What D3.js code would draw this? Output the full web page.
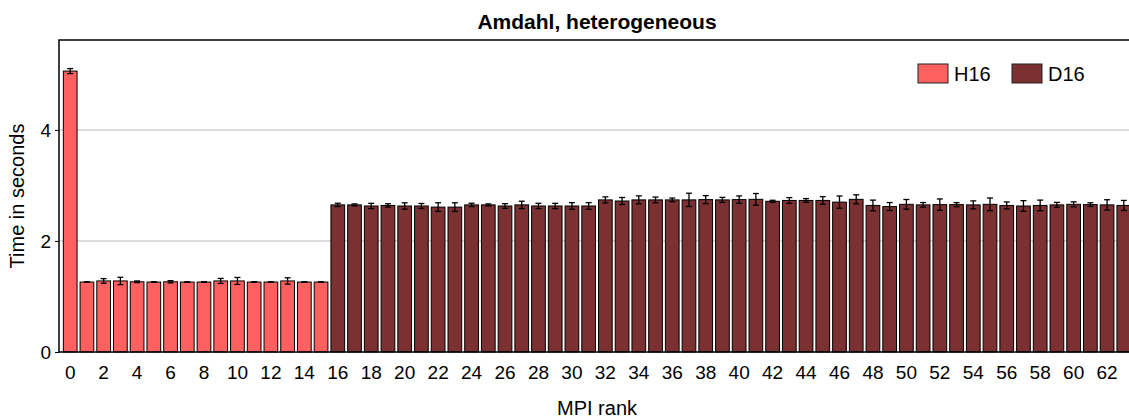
<!DOCTYPE html>
<html>
<head>
<meta charset="utf-8">
<script src="https://cdn.jsdelivr.net/npm/d3@7"></script>
<style>
  html, body { margin: 0; padding: 0; background: #fff; }
  svg { display: block; font-family: "Liberation Sans", Arial, Helvetica, sans-serif; }
</style>
</head>
<body>
<svg id="chart" width="1129" height="419"></svg>
<script>
// ---- data ----
const ranks = d3.range(64);
const groups = ["H16", "D16"];
const times = [
  5.06, 1.26, 1.28, 1.28, 1.265, 1.26, 1.265, 1.26, 1.26, 1.28, 1.28, 1.26, 1.26, 1.28, 1.26, 1.26,
  2.65, 2.65, 2.63, 2.64, 2.63, 2.63, 2.61, 2.61, 2.65, 2.65, 2.63, 2.65, 2.63, 2.63, 2.63, 2.63,
  2.74, 2.72, 2.74, 2.74, 2.74, 2.74, 2.745, 2.74, 2.745, 2.75, 2.715, 2.73, 2.73, 2.73, 2.70, 2.75,
  2.64, 2.62, 2.66, 2.65, 2.655, 2.655, 2.65, 2.66, 2.64, 2.63, 2.64, 2.65, 2.66, 2.655, 2.65, 2.64
];
const errors = [
  0.045, 0.005, 0.042, 0.066, 0.015, 0.005, 0.02, 0.005, 0.005, 0.045, 0.063, 0.005, 0.005, 0.057, 0.005, 0.005,
  0.03, 0.018, 0.048, 0.03, 0.057, 0.045, 0.078, 0.078, 0.03, 0.018, 0.042, 0.066, 0.048, 0.048, 0.06, 0.06,
  0.054, 0.063, 0.072, 0.051, 0.033, 0.12, 0.072, 0.045, 0.066, 0.105, 0.018, 0.051, 0.033, 0.069, 0.11, 0.081,
  0.096, 0.072, 0.087, 0.042, 0.102, 0.036, 0.072, 0.114, 0.063, 0.096, 0.096, 0.045, 0.045, 0.033, 0.093, 0.09
];
const rankGroup = ranks.map(r => r < 16 ? "H16" : "D16");
const yTicks = [0, 2, 4];
const xTickLabels = d3.range(0, 64, 2);

// ---- layout ----
const svg = d3.select("#chart");
const mLeft = 59, mTop = 40, mBottom = 352, mRight = 1135;
const colors = d3.scaleOrdinal().domain(groups).range(["#ff6161", "#7b3032"]);
const font = "Liberation Sans, Arial, sans-serif";

const x = d3.scaleBand().domain(ranks).range([mLeft, mRight]).paddingInner(0.18).paddingOuter(0.26);
const y = d3.scaleLinear().domain([0, 5.62]).range([mBottom, mTop]);

// grid
svg.append("g").selectAll("line").data(yTicks.filter(d => d > 0)).join("line")
  .attr("x1", mLeft).attr("x2", mRight)
  .attr("y1", d => y(d)).attr("y2", d => y(d))
  .attr("stroke", "#d0d0d0").attr("stroke-width", 1.5);

// bars
svg.append("g").selectAll("rect").data(ranks).join("rect")
  .attr("x", d => x(d))
  .attr("y", d => y(times[d]))
  .attr("width", x.bandwidth())
  .attr("height", d => y(0) - y(times[d]))
  .attr("fill", d => colors(rankGroup[d]))
  .attr("stroke", "#000").attr("stroke-width", 1);

// error bars
const eb = svg.append("g").attr("stroke", "#000").attr("stroke-width", 1.3);
ranks.forEach(d => {
  const cx = x(d) + x.bandwidth() / 2;
  const y1 = y(times[d] - errors[d]), y2 = y(times[d] + errors[d]);
  eb.append("line").attr("x1", cx).attr("x2", cx).attr("y1", y1).attr("y2", y2);
  eb.append("line").attr("x1", cx - 3).attr("x2", cx + 3).attr("y1", y1).attr("y2", y1);
  eb.append("line").attr("x1", cx - 3).attr("x2", cx + 3).attr("y1", y2).attr("y2", y2);
});

// frame
svg.append("path")
  .attr("d", `M${mRight},${mTop}H${mLeft}V${mBottom}H${mRight}`)
  .attr("fill", "none").attr("stroke", "#000").attr("stroke-width", 1.5);

// y axis
const yAxis = svg.append("g").attr("transform", `translate(${mLeft},0)`)
  .attr("font-size", 19).attr("font-family", font)
  .call(d3.axisLeft(y).tickValues(yTicks).tickFormat(d3.format("d")).tickSize(4).tickPadding(4));
yAxis.attr("font-size", 19).attr("font-family", font);
yAxis.select(".domain").remove();
yAxis.selectAll("line").attr("stroke", "#000");
yAxis.selectAll("text").attr("fill", "#000");

// x axis
const xAxis = svg.append("g").attr("transform", `translate(0,${mBottom})`)
  .call(d3.axisBottom(x).tickValues(xTickLabels).tickSize(0).tickPadding(14));
xAxis.attr("font-size", 19).attr("font-family", font);
xAxis.select(".domain").remove();
xAxis.selectAll("text").attr("fill", "#000");

// title
svg.append("text").attr("x", 597).attr("y", 29).attr("text-anchor", "middle")
  .attr("font-size", 21).attr("font-weight", "bold").text("Amdahl, heterogeneous");

// axis labels
svg.append("text").attr("x", 597).attr("y", 415).attr("text-anchor", "middle")
  .attr("font-size", 20).text("MPI rank");
svg.append("text").attr("transform", `translate(24,${(mTop + mBottom) / 2}) rotate(-90)`)
  .attr("text-anchor", "middle").attr("font-size", 20).text("Time in seconds");

// legend
const legendX = [918, 1012];
const lg = svg.append("g").selectAll("g").data(groups).join("g")
  .attr("transform", (d, i) => `translate(${legendX[i]},64)`);
lg.append("rect").attr("width", 30).attr("height", 19)
  .attr("fill", d => colors(d)).attr("stroke", "#222").attr("stroke-width", 1);
lg.append("text").attr("x", 36).attr("y", 17).attr("font-size", 20).text(d => d);
</script>
</body>
</html>
